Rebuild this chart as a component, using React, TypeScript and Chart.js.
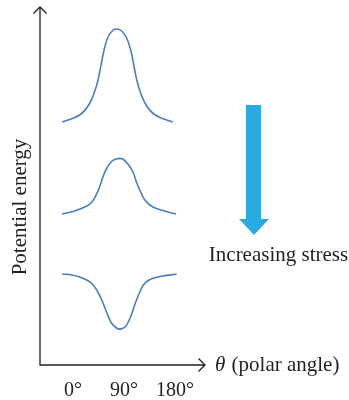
import React, { useEffect, useRef } from "react";
import { Chart, registerables } from "chart.js";

Chart.register(...registerables);

// θ tick labels (degrees)
const THETA_TICKS = [0, 90, 180];

// Curve 1 (no stress) : θ (deg) and potential energy (arb. units)
const TOP_X = [-19, 12, 30, 42, 48, 55, 62, 71, 78, 86, 94, 102, 109, 115, 127, 145, 176];
const TOP_Y = [243, 250, 262, 280, 295, 315, 328, 335, 336, 334, 328, 315, 295, 280, 262, 250, 243];

// Curve 2 (moderate stress)
const MID_X = [-19, 3, 21, 32, 41, 47, 53, 59, 68, 76, 82, 88, 97, 106, 112, 118, 127, 141, 162, 182];
const MID_Y = [151, 154, 158, 162, 170, 178, 188, 196, 203.5, 206, 206.5, 206, 201, 193, 183, 175, 165, 158, 154, 151];

// Curve 3 (high stress)
const LOW_X = [-19, -2, 12, 26, 35, 42, 51, 60, 68, 77, 83, 92, 101, 109, 118, 125, 136, 154, 183];
const LOW_Y = [91, 90, 88, 84.5, 80.5, 75, 65, 52, 42, 37, 36, 38, 47, 60, 73, 80.5, 85.5, 88.5, 91];

const Y_LABEL = "Potential energy";
const X_LABEL_SYM = "θ";
const X_LABEL_TXT = " (polar angle)";
const STRESS_LABEL = "Increasing stress";

const FONT = "'Liberation Serif', 'DejaVu Serif', serif";
const CURVE_COLOR = "#4a7ec2";
const AXIS_COLOR = "#231f20";
const ARROW_COLOR = "#29abe2";

const toPts = (xs: number[], ys: number[]) => xs.map((x, i) => ({ x, y: ys[i] }));

const decorPlugin = {
  id: "decor",
  afterDraw(chart: any) {
    const { ctx, chartArea } = chart;
    const { left, right, top, bottom } = chartArea;
    ctx.save();
    // axes
    ctx.strokeStyle = AXIS_COLOR;
    ctx.lineWidth = 1.3;
    ctx.beginPath();
    ctx.moveTo(left, top);
    ctx.lineTo(left, bottom);
    ctx.lineTo(right, bottom);
    ctx.stroke();
    // chevrons
    ctx.beginPath();
    ctx.moveTo(left - 6.5, top + 6.5);
    ctx.lineTo(left, top);
    ctx.lineTo(left + 6.5, top + 6.5);
    ctx.moveTo(right - 6.5, bottom - 6.5);
    ctx.lineTo(right, bottom);
    ctx.lineTo(right - 6.5, bottom + 6.5);
    ctx.stroke();

    // blue arrow
    ctx.fillStyle = ARROW_COLOR;
    ctx.beginPath();
    ctx.moveTo(246, 105);
    ctx.lineTo(261, 105);
    ctx.lineTo(261, 219);
    ctx.lineTo(269, 219);
    ctx.lineTo(254, 235);
    ctx.lineTo(239, 219);
    ctx.lineTo(246, 219);
    ctx.closePath();
    ctx.fill();

    // texts
    ctx.fillStyle = AXIS_COLOR;
    ctx.textBaseline = "alphabetic";
    ctx.font = `21px ${FONT}`;
    ctx.textAlign = "center";
    ctx.fillText(STRESS_LABEL, 278.5, 261);

    ctx.textAlign = "left";
    ctx.font = `italic 21px ${FONT}`;
    ctx.fillText(X_LABEL_SYM, 215, 371);
    const w = ctx.measureText(X_LABEL_SYM).width;
    ctx.font = `21px ${FONT}`;
    ctx.fillText(X_LABEL_TXT, 215 + w + 1, 371);

    ctx.translate(26, 207);
    ctx.rotate(-Math.PI / 2);
    ctx.textAlign = "center";
    ctx.font = `21px ${FONT}`;
    ctx.fillText(Y_LABEL, 0, 0);
    ctx.restore();
  },
};

export default function App() {
  const ref = useRef<HTMLCanvasElement>(null);
  useEffect(() => {
    document.body.style.margin = "0";
    const ds = (xs: number[], ys: number[], flatAt: number) => ({
      data: toPts(xs, ys),
      borderColor: CURVE_COLOR,
      borderWidth: 1.6,
      pointStyle: "line" as const,
      pointRadius: xs.map((_, i) => (i === flatAt ? 2 : 0)),
      pointBorderColor: CURVE_COLOR,
      pointBorderWidth: 1.4,
      fill: false,
      tension: 0.4,
    });
    const chart = new Chart(ref.current!, {
      type: "line",
      data: {
        datasets: [
          ds(TOP_X, TOP_Y, -1),
          ds(MID_X, MID_Y, MID_Y.indexOf(Math.max(...MID_Y))),
          ds(LOW_X, LOW_Y, LOW_Y.indexOf(Math.min(...LOW_Y))),
        ],
      },
      options: {
        animation: false,
        responsive: false,
        devicePixelRatio: 1,
        layout: { padding: { left: 40, right: 144, top: 7, bottom: 0 } },
        plugins: { legend: { display: false }, tooltip: { enabled: false } },
        scales: {
          x: {
            type: "linear",
            min: -58,
            max: 233,
            grid: { display: false, drawTicks: false },
            border: { display: false },
            afterBuildTicks: (s: any) => {
              s.ticks = THETA_TICKS.map((v) => ({ value: v }));
            },
            afterFit: (s: any) => {
              s.height = 35;
            },
            ticks: {
              autoSkip: false,
              maxRotation: 0,
              padding: 14,
              color: AXIS_COLOR,
              font: { family: FONT, size: 20 },
              callback: (v: any) => `${v}°`,
            },
          },
          y: { display: false, min: 0, max: 358 },
        },
      },
      plugins: [decorPlugin],
    });
    return () => chart.destroy();
  }, []);
  return <canvas ref={ref} width={349} height={400} />;
}
